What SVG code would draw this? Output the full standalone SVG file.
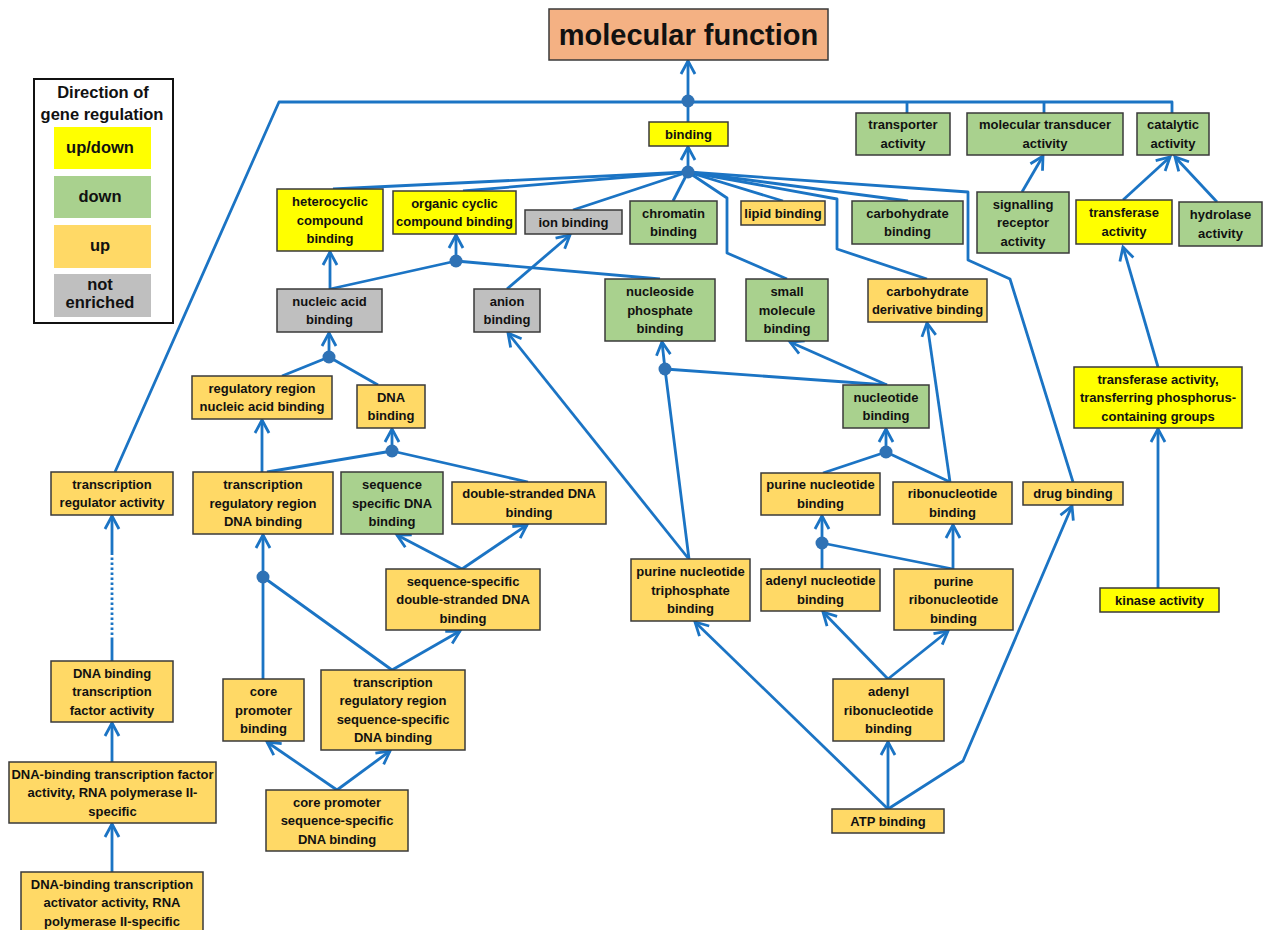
<svg xmlns="http://www.w3.org/2000/svg" width="1270" height="930" viewBox="0 0 1270 930">
<defs>
<style>
.n rect{stroke:#3a3a3a;stroke-width:1.5}
.y{fill:#FFFF00}.g{fill:#A9D18E}.o{fill:#FFD966}.s{fill:#BFBFBF}.t{fill:#F4B183}
text{font-family:"Liberation Sans",Arial,sans-serif;font-weight:bold;font-size:13px;fill:#111;text-anchor:middle}
text.title{font-size:29px}
.c path{fill:none;stroke:#1B74C4;stroke-width:2.8;stroke-linejoin:round}
.c path.a{marker-end:url(#ah)}
.c circle{fill:#2F72B5}
.lg text{font-size:16.5px}
</style>
<marker id="ah" viewBox="-16 -10 20 20" markerWidth="20" markerHeight="20" refX="0" refY="0" orient="auto" markerUnits="userSpaceOnUse">
<path d="M-13,-7 L0,0 L-13,7" fill="none" stroke="#1B74C4" stroke-width="2.8"/>
</marker>
</defs>
<rect width="1270" height="930" fill="#fff"/>

<g id="legend" class="lg">
<rect x="34" y="79" width="139" height="244" fill="#fff" stroke="#111" stroke-width="2"/>
<text x="103" y="98">Direction of</text>
<text x="102" y="120">gene regulation</text>
<rect class="y" x="54" y="127" width="97" height="42"/>
<text x="100" y="153">up/down</text>
<rect class="g" x="54" y="176" width="97" height="42"/>
<text x="100" y="202">down</text>
<rect class="o" x="54" y="225" width="97" height="43"/>
<text x="100" y="251">up</text>
<rect class="s" x="54" y="274" width="97" height="43"/>
<text x="100" y="290">not</text>
<text x="100" y="308">enriched</text>
</g>

<g id="connectors" class="c">
<path d="M115,472 L279,102 L1172,102 L1172,113"/>
<path d="M907,102 L907,113"/>
<path d="M1044,102 L1044,113"/>
<path class="a" d="M688,101 L688,61"/>
<path d="M688,122 L688,101"/>
<path class="a" d="M688,172 L688,147"/>
<path d="M688,172 L333,189"/>
<path d="M688,172 L463,191"/>
<path d="M688,172 L573,210"/>
<path d="M688,172 L673,201"/>
<path d="M688,172 L727,198 L727,253 L787,279"/>
<path d="M688,172 L783,201"/>
<path d="M688,172 L837,199 L837,249 L927,279"/>
<path d="M688,172 L908,201"/>
<path d="M688,172 L968,192 L968,260 L1010,279 L1073,482"/>
<path class="a" d="M456,261 L456,235"/>
<path d="M330,289 L456,261 L660,279"/>
<path class="a" d="M330,289 L330,252"/>
<path class="a" d="M507,289 L570,235"/>
<path class="a" d="M329,357 L329,333"/>
<path d="M282,376 L329,357 L378,385"/>
<path class="a" d="M262,472 L262,420"/>
<path class="a" d="M392,451 L392,429"/>
<path d="M267,472 L392,451 L528,482"/>
<path class="a" d="M263,577 L263,535"/>
<path d="M263,679 L263,577 L392,670"/>
<path class="a" d="M462,569 L397,535"/>
<path class="a" d="M462,569 L527,525"/>
<path class="a" d="M392,670 L460,631"/>
<path class="a" d="M337,790 L267,742"/>
<path class="a" d="M337,790 L390,751"/>
<path d="M112,661 L112,640"/>
<path d="M112,640 L112,555" stroke-dasharray="2.5 2.5"/>
<path class="a" d="M112,555 L112,516"/>
<path class="a" d="M112,762 L112,723"/>
<path class="a" d="M112,872 L112,824"/>
<path class="a" d="M1022,192 L1043,156"/>
<path class="a" d="M1123,200 L1170,157"/>
<path class="a" d="M1217,202 L1175,157"/>
<path class="a" d="M1158,367 L1123,247"/>
<path class="a" d="M1158,588 L1158,429"/>
<path class="a" d="M665,369 L662,342"/>
<path d="M887,385 L665,369 L689,559"/>
<path class="a" d="M887,385 L790,342"/>
<path class="a" d="M688,558 L508,333"/>
<path class="a" d="M886,452 L886,429"/>
<path d="M823,473 L886,452 L950,482"/>
<path class="a" d="M950,482 L927,323"/>
<path class="a" d="M822,543 L822,516"/>
<path d="M822,569 L822,543 L953,569"/>
<path class="a" d="M953,569 L953,525"/>
<path class="a" d="M888,679 L823,612"/>
<path class="a" d="M888,679 L948,631"/>
<path class="a" d="M888,809 L888,742"/>
<path class="a" d="M888,809 L695,622"/>
<path class="a" d="M888,809 L963,761 L1072,506"/>
<circle cx="688" cy="101" r="6.5"/>
<circle cx="688" cy="172" r="6.5"/>
<circle cx="456" cy="261" r="6.5"/>
<circle cx="329" cy="357" r="6.5"/>
<circle cx="392" cy="451" r="6.5"/>
<circle cx="263" cy="577" r="6.5"/>
<circle cx="665" cy="369" r="6.5"/>
<circle cx="886" cy="452" r="6.5"/>
<circle cx="822" cy="543" r="6.5"/>
</g>

<g id="n-mf" class="n"><rect class="t" x="549" y="9" width="279" height="51"/><text class="title" x="688.5" y="45">molecular function</text></g>
<g id="n-binding" class="n"><rect class="y" x="649" y="122" width="79" height="24"/><text x="688.5" y="138.5">binding</text></g>
<g id="n-transporter" class="n"><rect class="g" x="856" y="113" width="94" height="42"/><text x="903" y="129.25">transporter<tspan x="903" dy="18.5">activity</tspan></text></g>
<g id="n-transducer" class="n"><rect class="g" x="967" y="113" width="156" height="42"/><text x="1045" y="129.25">molecular transducer<tspan x="1045" dy="18.5">activity</tspan></text></g>
<g id="n-catalytic" class="n"><rect class="g" x="1137" y="113" width="72" height="42"/><text x="1173" y="129.25">catalytic<tspan x="1173" dy="18.5">activity</tspan></text></g>
<g id="n-heterocyclic" class="n"><rect class="y" x="277" y="189" width="106" height="62"/><text x="330" y="206">heterocyclic<tspan x="330" dy="18.5">compound</tspan><tspan x="330" dy="18.5">binding</tspan></text></g>
<g id="n-organic" class="n"><rect class="y" x="393" y="191" width="123" height="43"/><text x="454.5" y="207.75">organic cyclic<tspan x="454.5" dy="18.5">compound binding</tspan></text></g>
<g id="n-ion" class="n"><rect class="s" x="525" y="210" width="97" height="24"/><text x="573.5" y="226.5">ion binding</text></g>
<g id="n-chromatin" class="n"><rect class="g" x="630" y="201" width="87" height="43"/><text x="673.5" y="217.75">chromatin<tspan x="673.5" dy="18.5">binding</tspan></text></g>
<g id="n-lipid" class="n"><rect class="o" x="741" y="201" width="84" height="24"/><text x="783" y="217.5">lipid binding</text></g>
<g id="n-carb" class="n"><rect class="g" x="852" y="201" width="111" height="43"/><text x="907.5" y="217.75">carbohydrate<tspan x="907.5" dy="18.5">binding</tspan></text></g>
<g id="n-signalling" class="n"><rect class="g" x="977" y="192" width="92" height="61"/><text x="1023" y="208.5">signalling<tspan x="1023" dy="18.5">receptor</tspan><tspan x="1023" dy="18.5">activity</tspan></text></g>
<g id="n-transferase" class="n"><rect class="y" x="1076" y="200" width="96" height="44"/><text x="1124" y="217.25">transferase<tspan x="1124" dy="18.5">activity</tspan></text></g>
<g id="n-hydrolase" class="n"><rect class="g" x="1179" y="202" width="83" height="44"/><text x="1220.5" y="219.25">hydrolase<tspan x="1220.5" dy="18.5">activity</tspan></text></g>
<g id="n-nucleic" class="n"><rect class="s" x="277" y="289" width="105" height="43"/><text x="329.5" y="305.75">nucleic acid<tspan x="329.5" dy="18.5">binding</tspan></text></g>
<g id="n-anion" class="n"><rect class="s" x="474" y="289" width="66" height="43"/><text x="507" y="305.75">anion<tspan x="507" dy="18.5">binding</tspan></text></g>
<g id="n-nucleoside" class="n"><rect class="g" x="605" y="279" width="110" height="62"/><text x="660" y="296">nucleoside<tspan x="660" dy="18.5">phosphate</tspan><tspan x="660" dy="18.5">binding</tspan></text></g>
<g id="n-small" class="n"><rect class="g" x="746" y="279" width="82" height="62"/><text x="787" y="296">small<tspan x="787" dy="18.5">molecule</tspan><tspan x="787" dy="18.5">binding</tspan></text></g>
<g id="n-carbderiv" class="n"><rect class="o" x="868" y="279" width="119" height="43"/><text x="927.5" y="295.75">carbohydrate<tspan x="927.5" dy="18.5">derivative binding</tspan></text></g>
<g id="n-regregion" class="n"><rect class="o" x="192" y="376" width="140" height="43"/><text x="262" y="392.75">regulatory region<tspan x="262" dy="18.5">nucleic acid binding</tspan></text></g>
<g id="n-dna" class="n"><rect class="o" x="357" y="385" width="68" height="43"/><text x="391" y="401.75">DNA<tspan x="391" dy="18.5">binding</tspan></text></g>
<g id="n-nucleotide" class="n"><rect class="g" x="843" y="385" width="86" height="43"/><text x="886" y="401.75">nucleotide<tspan x="886" dy="18.5">binding</tspan></text></g>
<g id="n-phosph" class="n"><rect class="y" x="1074" y="367" width="168" height="61"/><text x="1158" y="383.5">transferase activity,<tspan x="1158" dy="18.5">transferring phosphorus-</tspan><tspan x="1158" dy="18.5">containing groups</tspan></text></g>
<g id="n-tra" class="n"><rect class="o" x="51" y="472" width="122" height="43"/><text x="112" y="488.75">transcription<tspan x="112" dy="18.5">regulator activity</tspan></text></g>
<g id="n-trrdna" class="n"><rect class="o" x="193" y="472" width="140" height="62"/><text x="263" y="489">transcription<tspan x="263" dy="18.5">regulatory region</tspan><tspan x="263" dy="18.5">DNA binding</tspan></text></g>
<g id="n-seqdna" class="n"><rect class="g" x="341" y="472" width="102" height="62"/><text x="392" y="489">sequence<tspan x="392" dy="18.5">specific DNA</tspan><tspan x="392" dy="18.5">binding</tspan></text></g>
<g id="n-dsdna" class="n"><rect class="o" x="452" y="482" width="154" height="42"/><text x="529" y="498.25">double-stranded DNA<tspan x="529" dy="18.5">binding</tspan></text></g>
<g id="n-purnuc" class="n"><rect class="o" x="761" y="473" width="119" height="42"/><text x="820.5" y="489.25">purine nucleotide<tspan x="820.5" dy="18.5">binding</tspan></text></g>
<g id="n-ribo" class="n"><rect class="o" x="893" y="482" width="119" height="42"/><text x="952.5" y="498.25">ribonucleotide<tspan x="952.5" dy="18.5">binding</tspan></text></g>
<g id="n-drug" class="n"><rect class="o" x="1023" y="482" width="100" height="23"/><text x="1073" y="498">drug binding</text></g>
<g id="n-seqds" class="n"><rect class="o" x="386" y="569" width="154" height="61"/><text x="463" y="585.5">sequence-specific<tspan x="463" dy="18.5">double-stranded DNA</tspan><tspan x="463" dy="18.5">binding</tspan></text></g>
<g id="n-pntp" class="n"><rect class="o" x="631" y="559" width="119" height="62"/><text x="690.5" y="576">purine nucleotide<tspan x="690.5" dy="18.5">triphosphate</tspan><tspan x="690.5" dy="18.5">binding</tspan></text></g>
<g id="n-adenylnuc" class="n"><rect class="o" x="761" y="569" width="119" height="42"/><text x="820.5" y="585.25">adenyl nucleotide<tspan x="820.5" dy="18.5">binding</tspan></text></g>
<g id="n-purribo" class="n"><rect class="o" x="894" y="569" width="119" height="61"/><text x="953.5" y="585.5">purine<tspan x="953.5" dy="18.5">ribonucleotide</tspan><tspan x="953.5" dy="18.5">binding</tspan></text></g>
<g id="n-kinase" class="n"><rect class="y" x="1100" y="588" width="119" height="24"/><text x="1159.5" y="604.5">kinase activity</text></g>
<g id="n-dbtf" class="n"><rect class="o" x="51" y="661" width="122" height="61"/><text x="112" y="677.5">DNA binding<tspan x="112" dy="18.5">transcription</tspan><tspan x="112" dy="18.5">factor activity</tspan></text></g>
<g id="n-corebind" class="n"><rect class="o" x="223" y="679" width="81" height="62"/><text x="263.5" y="696">core<tspan x="263.5" dy="18.5">promoter</tspan><tspan x="263.5" dy="18.5">binding</tspan></text></g>
<g id="n-trrseq" class="n"><rect class="o" x="321" y="670" width="144" height="80"/><text x="393" y="686.75">transcription<tspan x="393" dy="18.5">regulatory region</tspan><tspan x="393" dy="18.5">sequence-specific</tspan><tspan x="393" dy="18.5">DNA binding</tspan></text></g>
<g id="n-adenylribo" class="n"><rect class="o" x="833" y="679" width="111" height="62"/><text x="888.5" y="696">adenyl<tspan x="888.5" dy="18.5">ribonucleotide</tspan><tspan x="888.5" dy="18.5">binding</tspan></text></g>
<g id="n-dbtf2" class="n"><rect class="o" x="9" y="762" width="207" height="61"/><text x="112.5" y="778.5">DNA-binding transcription factor<tspan x="112.5" dy="18.5">activity, RNA polymerase II-</tspan><tspan x="112.5" dy="18.5">specific</tspan></text></g>
<g id="n-coreseq" class="n"><rect class="o" x="266" y="790" width="142" height="61"/><text x="337" y="806.5">core promoter<tspan x="337" dy="18.5">sequence-specific</tspan><tspan x="337" dy="18.5">DNA binding</tspan></text></g>
<g id="n-atp" class="n"><rect class="o" x="832" y="809" width="112" height="24"/><text x="888" y="825.5">ATP binding</text></g>
<g id="n-activator" class="n"><rect class="o" x="21" y="872" width="182" height="70"/><text x="112" y="888.5">DNA-binding transcription<tspan x="112" dy="18.5">activator activity, RNA</tspan><tspan x="112" dy="18.5">polymerase II-specific</tspan></text></g>
</svg>
